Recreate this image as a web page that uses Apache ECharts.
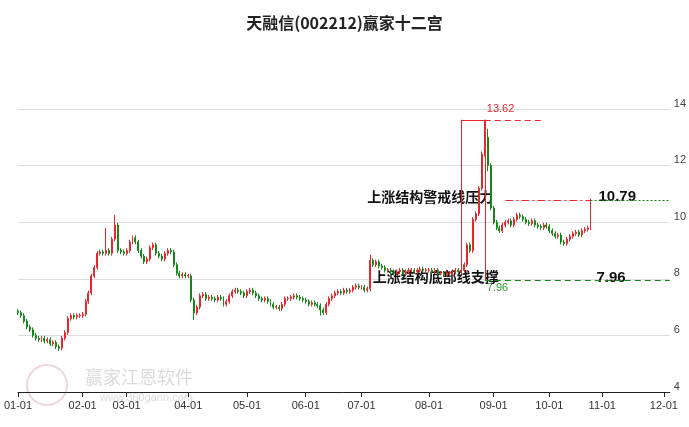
<!DOCTYPE html>
<html><head><meta charset="utf-8">
<script src="https://cdn.jsdelivr.net/npm/echarts@6/dist/echarts.min.js"></script>
<style>html,body{margin:0;padding:0;background:#fff}#c{width:689px;height:427px}</style>
</head><body><div id="c"></div>
<script>
const title = '天融信(002212)赢家十二宫';
const holidays = ['2024-01-01','2024-02-09','2024-02-12','2024-02-13','2024-02-14','2024-02-15','2024-02-16','2024-04-04','2024-04-05','2024-05-01','2024-05-02','2024-05-03','2024-06-10','2024-09-16','2024-09-17','2024-10-01','2024-10-02','2024-10-03','2024-10-04','2024-10-07'];
const closeJan = [6.8,6.7,6.5,6.3,6.2,6.0,5.9,5.85,5.9,5.8,5.85,5.7,5.75,5.6,5.55,5.9,6.1,6.6,6.7,6.65,6.7,6.7];
const closeFeb = [6.75,7.2,7.5,8.1,8.4,8.9,8.95,8.9,9.0,8.9,9.4,9.9,9.0,8.95,8.9];
const closeMar = [9.0,9.3,9.45,9.3,9.0,8.8,8.6,8.7,9.1,9.2,8.9,8.8,8.7,8.9,9.0,8.95,8.5,8.2,8.1,8.15,8.1];
const closeApr = [8.1,7.25,6.8,7.0,7.4,7.45,7.3,7.35,7.3,7.25,7.35,7.3,7.1,7.2,7.4,7.55,7.6,7.55,7.5,7.4];
const closeMay = [7.55,7.6,7.5,7.4,7.3,7.25,7.3,7.2,7.1,7.0,7.0,6.95,7.1,7.3,7.3,7.35,7.4,7.35,7.3,7.25];
const closeJun = [7.2,7.1,7.15,7.1,7.05,6.9,6.8,7.1,7.3,7.4,7.5,7.55,7.5,7.6,7.55,7.6,7.7,7.75,7.7];
const closeJul = [7.7,7.6,7.65,8.65,8.5,8.6,8.45,8.4,8.3,8.3,8.25,8.2,8.25,8.3,8.2,8.25,8.3,8.3,8.25,8.3,8.35,8.3,8.3];
const closeAug = [8.3,8.25,8.3,8.2,8.2,8.15,8.2,8.2,8.25,8.3,8.25,8.3,8.5,9.2,9.0,10.1,10.3,11.2,12.4,13.0,12.0,10.5];
const closeSep = [10.0,9.8,9.7,9.9,10.0,10.05,9.9,10.1,10.25,10.2,10.1,10.0,9.95,10.05,9.9,9.85,9.8,9.9,9.85];
const closeOct = [9.7,9.6,9.5,9.55,9.3,9.25,9.4,9.5,9.6,9.65,9.55,9.7,9.75,9.8,10.75];
const highOverride = {'2024-02-21':9.8,'2024-02-26':10.25,'2024-08-28':13.62,'2024-08-29':13.3,'2024-08-27':12.5,'2024-07-04':8.85};
const lowOverride = {'2024-01-22':5.45,'2024-04-03':6.55,'2024-06-11':6.7,'2024-08-29':11.8};
const levels = {top:13.62, warn:10.79, base:7.96};

const dates = [];
for (let d = new Date(Date.UTC(2024,0,2)); d <= new Date(Date.UTC(2024,11,4)); d.setUTCDate(d.getUTCDate()+1)) {
  const wd = d.getUTCDay(); const s = d.toISOString().slice(0,10);
  if (wd===0||wd===6||holidays.includes(s)) continue;
  dates.push(s);
}
const closes = [].concat(closeJan,closeFeb,closeMar,closeApr,closeMay,closeJun,closeJul,closeAug,closeSep,closeOct);
const kdata = dates.map((s,i)=>{
  if (i>=closes.length) return '-';
  const c = closes[i], o = i>0 ? closes[i-1] : c+0.05;
  const hi = highOverride[s] !== undefined ? highOverride[s] : Math.max(o,c)+0.08;
  const lo = lowOverride[s] !== undefined ? lowOverride[s] : Math.min(o,c)-0.08;
  return [o, c===o ? c+0.02 : c, lo, hi];
});
const firstOfMonth = new Set();
let lastM='';
dates.forEach((s,i)=>{const m=s.slice(5,7); if(m!==lastM){firstOfMonth.add(i); lastM=m;}});
const lastIdx = closes.length-1;
const peakDate='2024-08-28', boxLeft='2024-08-16', topEnd='2024-09-27', warnStart='2024-09-06', lastDate=dates[lastIdx], endDate=dates[dates.length-1];

const chart = echarts.init(document.getElementById('c'));
const red='#e8262d', green='#16861a';
chart.setOption({
  animation:false,
  title:{text:title,left:'center',top:10,textStyle:{fontSize:16,fontWeight:'bold',color:'#222',fontFamily:'Noto Sans CJK SC'}},
  grid:{left:18,right:16,top:109,bottom:35},
  xAxis:{type:'category',data:dates,boundaryGap:false,
    axisLine:{lineStyle:{color:'#222'}},
    axisTick:{interval:(i)=>firstOfMonth.has(i),length:5,lineStyle:{color:'#222'}},
    axisLabel:{interval:(i)=>firstOfMonth.has(i),formatter:(v)=>v.slice(5,7)+'-01',color:'#333',fontSize:11,margin:8},
    splitLine:{show:false}},
  yAxis:{type:'value',position:'right',min:4,max:14,interval:2,
    axisLine:{show:false},axisTick:{show:false},
    axisLabel:{color:'#444',fontSize:11,margin:4,verticalAlign:'bottom'},
    splitLine:{lineStyle:{color:'#ddd'}}},
  series:[{type:'candlestick',data:kdata,barMaxWidth:3,
    itemStyle:{color:red,color0:green,borderColor:red,borderColor0:green,borderWidth:1},
    markLine:{symbol:'none',silent:true,label:{show:false},data:[
      [{coord:[peakDate,levels.top],lineStyle:{color:red,type:[6,4],width:1}},{coord:[topEnd,levels.top]}],
      [{coord:[boxLeft,levels.top],lineStyle:{color:red,type:'solid',width:1}},{coord:[peakDate,levels.top]}],
      [{coord:[boxLeft,levels.top],lineStyle:{color:red,type:'solid',width:1}},{coord:[boxLeft,8.3]}],
      [{coord:[peakDate,levels.top],lineStyle:{color:red,type:'solid',width:1}},{coord:[peakDate,levels.base]}],
      [{coord:[warnStart,levels.warn],lineStyle:{color:red,type:[8,3,2,3],width:1}},{coord:[lastDate,levels.warn]}],
      [{coord:[lastDate,levels.warn],lineStyle:{color:green,type:[2,2],width:1}},{coord:[endDate,levels.warn]}],
      [{coord:[peakDate,levels.base],lineStyle:{color:green,type:[6,4],width:1}},{coord:[endDate,levels.base]}]
    ]}
  }]
});
function px(d,v){return chart.convertToPixel({seriesIndex:0},[d,v]);}
const pTop=px(peakDate,levels.top), pWarn=px(warnStart,levels.warn), pWarnR=px(lastDate,levels.warn), pBase=px(peakDate,levels.base), pBaseR=px(lastDate,levels.base);
const f='Noto Sans CJK SC';
chart.setOption({graphic:[
  {type:'text',left:85,top:368,z:0,style:{text:'赢家江恩软件',fill:'rgba(150,150,150,0.35)',font:'18px '+f}},
  {type:'text',left:100,top:392,z:0,style:{text:'www.360gann.com',fill:'rgba(150,150,150,0.35)',font:'11px sans-serif'}},
  {type:'circle',shape:{cx:47,cy:385,r:20},style:{fill:'none',stroke:'rgba(200,120,120,0.3)',lineWidth:2}},
  {type:'text',x:pTop[0]+2,y:pTop[1]-16,style:{text:levels.top.toFixed(2),fill:red,font:'11px sans-serif'}},
  {type:'text',x:pBase[0]+2,y:pBase[1]+3,style:{text:levels.base.toFixed(2),fill:'#2a9a2a',font:'11px sans-serif'}},
  {type:'text',x:pWarn[0]-138,y:pWarn[1]-10,style:{text:'上涨结构警戒线压力',fill:'#111',font:'bold 14px '+f}},
  {type:'text',x:pWarnR[0]+8,y:pWarnR[1]-10,style:{text:levels.warn.toFixed(2),fill:'#111',font:'bold 15px sans-serif'}},
  {type:'text',x:pBase[0]-112,y:pBase[1]-10,style:{text:'上涨结构底部线支撑',fill:'#111',font:'bold 14px '+f}},
  {type:'text',x:pBaseR[0]+6,y:pBaseR[1]-10,style:{text:levels.base.toFixed(2),fill:'#111',font:'bold 15px sans-serif'}}
]});
</script></body></html>
